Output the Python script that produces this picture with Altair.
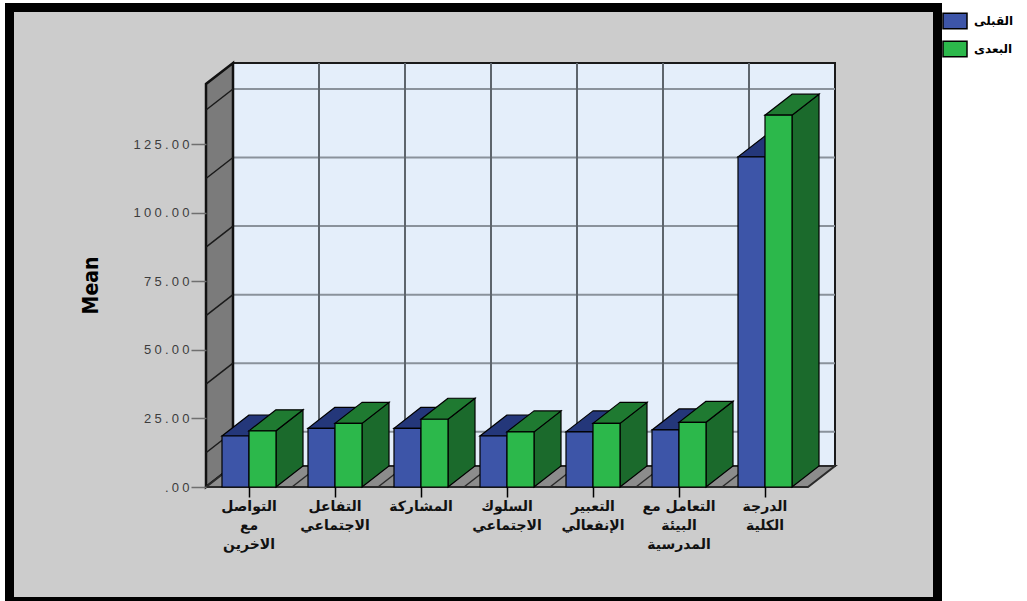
import altair as alt
import pandas as pd

# ---------------- data ----------------
label_lines = [
    "التواصل\nمع\nالاخرين",
    "التفاعل\nالاجتماعي",
    "المشاركة",
    "السلوك\nالاجتماعي",
    "التعبير\nالإنفعالي",
    "التعامل مع\nالبيئة\nالمدرسية",
    "الدرجة\nالكلية",
]
series_names = ["القبلى", "البعدى"]
pre_means = [18.6, 21.4, 21.4, 18.6, 20.1, 20.8, 120.4]
post_means = [20.5, 23.2, 24.7, 20.1, 23.2, 23.6, 135.6]
y_ticks = [0, 25, 50, 75, 100, 125]
wall_grid = [12.5, 37.5, 62.5, 87.5, 112.5, 137.5]

# ---------------- geometry / style ----------------
W, H = 630, 425
PX_CAT = 86.0
X_MAX = W / PX_CAT
Y_MAX = 155.0
PPU = H / Y_MAX
BAR_W = 27 / PX_CAT
DX = 27 / PX_CAT
DY = 21 / PPU
WALL_TOP = 147.0
N = len(label_lines)

front_col = {series_names[0]: "#3d55a8", series_names[1]: "#2cb84b"}
top_col = {series_names[0]: "#24377a", series_names[1]: "#1f7a31"}
side_col = {series_names[0]: "#1f2f6a", series_names[1]: "#1b6a2c"}

xs = alt.Scale(domain=[0, X_MAX], nice=False, zero=False)
ys = alt.Scale(domain=[0, Y_MAX], nice=False, zero=False)

x_axis = alt.Axis(values=[i + 0.5 for i in range(N)], labels=False, domain=False,
                  grid=False, ticks=True, tickSize=10, tickColor="black",
                  tickWidth=1.5, title=None, zindex=1)
y_axis = alt.Axis(values=y_ticks, domain=False, grid=False, ticks=True, tickSize=15,
                  tickColor="#6f6f6f", tickWidth=1.5,
                  labelExpr="join(split(datum.value == 0 ? '.00' : format(datum.value, '.2f'), ''), '\u2005')",
                  labelFont="Liberation Sans", labelFontSize=13, labelColor="#3c3c3c",
                  labelPadding=2, title="Mean",
                  titleFont="'Liberation Sans Narrow', 'DejaVu Sans Condensed', 'Liberation Sans', sans-serif",
                  titleFontSize=21, titleFontWeight="bold", titleColor="black",
                  titleAngle=270, titleX=-115, titleY=223, titleAlign="center",
                  titleBaseline="middle", zindex=1)


def X(f):
    return alt.X(f, type="quantitative", scale=xs, axis=x_axis)


def Y(f):
    return alt.Y(f, type="quantitative", scale=ys, axis=y_axis, stack=None)


# ---------------- tables ----------------
front_rows, side_rows, top_rows = [], [], []
for si, (name, vals) in enumerate(zip(series_names, [pre_means, post_means])):
    for i, v in enumerate(vals):
        c = i + 0.5
        x0 = c - BAR_W if si == 0 else c
        x1 = x0 + BAR_W
        bid = f"{si}-{i}"
        front_rows.append(dict(series=name, x0=x0, x1=x1, y0=0, y1=v))
        side_rows.append(dict(series=name, bar=bid, x=x1, lo=0, hi=v, col=side_col[name]))
        side_rows.append(dict(series=name, bar=bid, x=x1 + DX, lo=DY, hi=v + DY, col=side_col[name]))
        top_rows.append(dict(series=name, bar=bid, y=v, xl=x0, xr=x1, col=top_col[name]))
        top_rows.append(dict(series=name, bar=bid, y=v + DY, xl=x0 + DX, xr=x1 + DX, col=top_col[name]))
front_df = pd.DataFrame(front_rows)
side_df = pd.DataFrame(side_rows)
top_df = pd.DataFrame(top_rows)

wall_df = pd.DataFrame([dict(x=0, lo=0, hi=WALL_TOP), dict(x=DX, lo=DY, hi=WALL_TOP + DY)])
floor_df = pd.DataFrame([dict(y=0, xl=0, xr=N), dict(y=DY, xl=DX, xr=N + DX)])
back_df = pd.DataFrame([dict(x0=DX, x1=N + DX, y0=DY, y1=WALL_TOP + DY)])
hgrid_df = pd.DataFrame([dict(x0=DX, x1=N + DX, y=g + DY) for g in wall_grid])
vgrid_df = pd.DataFrame([dict(x=k + DX, y0=DY, y1=WALL_TOP + DY) for k in range(1, N)])
wdiag_rows = []
for j, g in enumerate(wall_grid):
    wdiag_rows.append(dict(id=j, x=0, y=g))
    wdiag_rows.append(dict(id=j, x=DX, y=g + DY))
wdiag_df = pd.DataFrame(wdiag_rows)
fdiag_rows = []
for k in range(1, N):
    fdiag_rows.append(dict(id=k, x=k, y=0))
    fdiag_rows.append(dict(id=k, x=k + DX, y=DY))
fdiag_df = pd.DataFrame(fdiag_rows)
lab_df = pd.DataFrame(dict(c=[i + 0.5 for i in range(N)], label=label_lines))

# ---------------- layers ----------------
frame = alt.Chart(alt.Data(values=[{}])).mark_rect(
    fill="#cccccc", stroke="black", strokeWidth=9
).encode(x=alt.value(9.5 - 206), x2=alt.value(937.5 - 206),
         y=alt.value(7.5 - 62), y2=alt.value(601.5 - 62))

back = alt.Chart(back_df).mark_rect(fill="#e4eefa", stroke="#1a1a1a", strokeWidth=2).encode(
    x=X("x0"), x2="x1", y=Y("y0"), y2="y1")
hgrid = alt.Chart(hgrid_df).mark_rule(color="#8a929b", strokeWidth=2).encode(
    x=X("x0"), x2="x1", y=Y("y"))
vgrid = alt.Chart(vgrid_df).mark_rule(color="#5e656c", strokeWidth=2).encode(
    x=X("x"), y=Y("y0"), y2="y1")
wall = alt.Chart(wall_df).mark_area(fill="#7b7b7b", stroke="#111111", strokeWidth=2.5).encode(
    x=X("x"), y=Y("lo"), y2="hi")
wdiag = alt.Chart(wdiag_df).mark_line(color="#1a1a1a", strokeWidth=1.5).encode(
    x=X("x"), y=Y("y"), detail="id:N")
floor = alt.Chart(floor_df).mark_area(orient="horizontal", fill="#8c8c8c", stroke="#2a2a2a",
                                      strokeWidth=2).encode(
    y=Y("y"), x=X("xl"), x2="xr")
fdiag = alt.Chart(fdiag_df).mark_line(color="#2a2a2a", strokeWidth=1.5).encode(
    x=X("x"), y=Y("y"), detail="id:N")

color_enc = alt.Color("series:N", scale=alt.Scale(domain=series_names,
                                                  range=[front_col[s] for s in series_names]),
                      sort=series_names,
                      legend=alt.Legend(title=None, orient="none", legendX=736, legendY=-54,
                                        symbolType="M-1,-0.65H1V0.65H-1Z", symbolSize=576,
                                        symbolStrokeColor="black", symbolStrokeWidth=1.5,
                                        symbolOpacity=1, labelFont="DejaVu Sans",
                                        labelFontWeight="bold", labelFontSize=12,
                                        labelColor="black", labelOffset=6, rowPadding=4))

bar_layers = []
for s in series_names:
    sd = side_df[side_df.series == s]
    td = top_df[top_df.series == s]
    fd = front_df[front_df.series == s]
    bar_layers.append(alt.Chart(sd).mark_area(stroke="black", strokeWidth=1.2).encode(
        x=X("x"), y=Y("lo"), y2="hi", detail="bar:N",
        color=alt.Color("col:N", scale=None)))
    bar_layers.append(alt.Chart(td).mark_area(orient="horizontal", stroke="black",
                                              strokeWidth=1.2).encode(
        y=Y("y"), x=X("xl"), x2="xr", detail="bar:N",
        color=alt.Color("col:N", scale=None)))
    bar_layers.append(alt.Chart(fd).mark_rect(stroke="black", strokeWidth=1.2).encode(
        x=X("x0"), x2="x1", y=Y("y0"), y2="y1", color=color_enc))

labels = alt.Chart(lab_df).mark_text(
    lineBreak="\n", font="DejaVu Sans", fontSize=14, fontWeight="bold", color="#111111",
    baseline="top", align="center", lineHeight=19
).encode(x=X("c"), y=alt.value(H + 13), text="label:N")

chart = alt.layer(frame, back, hgrid, vgrid, wall, wdiag, floor, fdiag, *bar_layers, labels).properties(
    width=W, height=H,
    autosize=alt.AutoSizeParams(type="none"),
    padding={"left": 206, "top": 62, "right": 1027 - 206 - W, "bottom": 601 - 62 - H},
    background="white",
).configure_view(stroke=None)

chart.save("out.html", embed_options={"renderer": "svg", "actions": False})
